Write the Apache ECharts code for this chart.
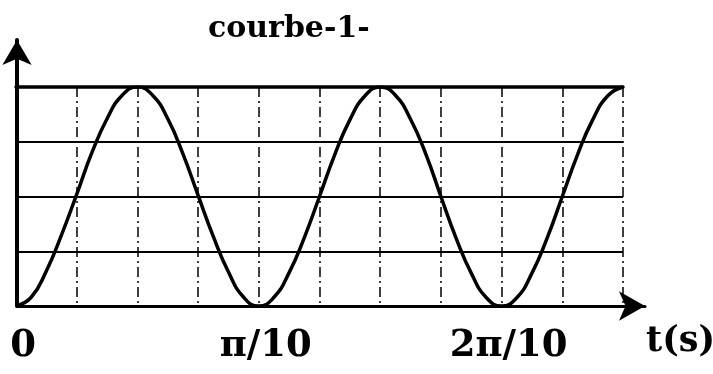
<!DOCTYPE html>
<html>
<head>
<meta charset="utf-8">
<script src="https://cdn.jsdelivr.net/npm/echarts@6/dist/echarts.min.js"></script>
<style>html,body{margin:0;padding:0;background:#fff}#c{width:713px;height:374px}</style>
</head>
<body>
<div id="c"></div>
<script>
// time in grid cells (1 cell = pi/40 s)
var tCells = [0,0.25,0.5,0.75,1,1.25,1.5,1.75,2,2.25,2.5,2.75,3,3.25,3.5,3.75,4,
  4.25,4.5,4.75,5,5.25,5.5,5.75,6,6.25,6.5,6.75,7,7.25,7.5,7.75,8,
  8.25,8.5,8.75,9,9.25,9.5,9.75,10];
// curve value in grid divisions (0 = bottom axis, 4 = top line)
var yVals = [0,0.16,0.64,1.3,2.04,2.8,3.42,3.85,4,3.85,3.42,2.78,2.02,1.27,0.62,0.16,0,
  0.16,0.61,1.25,2.0,2.76,3.4,3.84,4,3.85,3.41,2.78,2.0,1.24,0.6,0.15,0,
  0.15,0.6,1.24,2.0,2.76,3.4,3.84,4];
var tickLabels = ['0','','','','π/10','','','','2π/10','',''];
var titleText = 'courbe-1-';
var axisName = 't(s)';

var chart = echarts.init(document.getElementById('c'));
var serif = '"DejaVu Serif", serif';
var pts = tCells.map(function(t,i){return [t,yVals[i]];});
chart.setOption({
  animation:false,
  backgroundColor:'#fff',
  title:[
    {text:titleText,left:203,top:9,textStyle:{fontFamily:serif,fontWeight:'bold',fontSize:30,color:'#000'}},
    {text:axisName,left:641,top:319,textStyle:{fontFamily:serif,fontWeight:'bold',fontSize:35,color:'#000'}}
  ],
  grid:[
    {left:16,right:90,top:87,bottom:68},
    {left:17,right:68,top:40,bottom:68}
  ],
  xAxis:[
    {gridIndex:0,type:'value',min:0,max:10,interval:1,
     axisLine:{show:false},axisTick:{show:false},
     splitLine:{show:true,lineStyle:{color:'#000',width:1.5,type:[10,4,2,4]}},
     axisLabel:{show:true,margin:22,padding:[0,0,0,14],fontFamily:serif,fontWeight:'bold',fontSize:37,color:'#000',
       formatter:function(v){return tickLabels[Math.round(v)]||'';}}},
    {gridIndex:0,type:'value',min:0,max:10,position:'top',
     axisLine:{show:true,lineStyle:{color:'#000',width:3.5}},axisTick:{show:false},axisLabel:{show:false},splitLine:{show:false}},
    {gridIndex:1,type:'value',min:0,max:1,
     axisLine:{show:true,symbol:['none','arrow'],symbolSize:[22,26],lineStyle:{color:'#000',width:3}},
     axisTick:{show:false},axisLabel:{show:false},splitLine:{show:false}}
  ],
  yAxis:[
    {gridIndex:0,type:'value',min:0,max:4,interval:1,
     axisLine:{show:false},axisTick:{show:false},axisLabel:{show:false},
     splitLine:{show:true,lineStyle:{color:'#000',width:2}}},
    {gridIndex:1,type:'value',min:0,max:1,
     axisLine:{show:true,symbol:['none','arrow'],symbolSize:[22,25],lineStyle:{color:'#000',width:4}},
     axisTick:{show:false},axisLabel:{show:false},splitLine:{show:false}}
  ],
  series:[{
    type:'line',xAxisIndex:0,yAxisIndex:0,data:pts,smooth:0.5,showSymbol:false,
    lineStyle:{color:'#000',width:3.5},z:5
  }]
});
</script>
</body>
</html>
